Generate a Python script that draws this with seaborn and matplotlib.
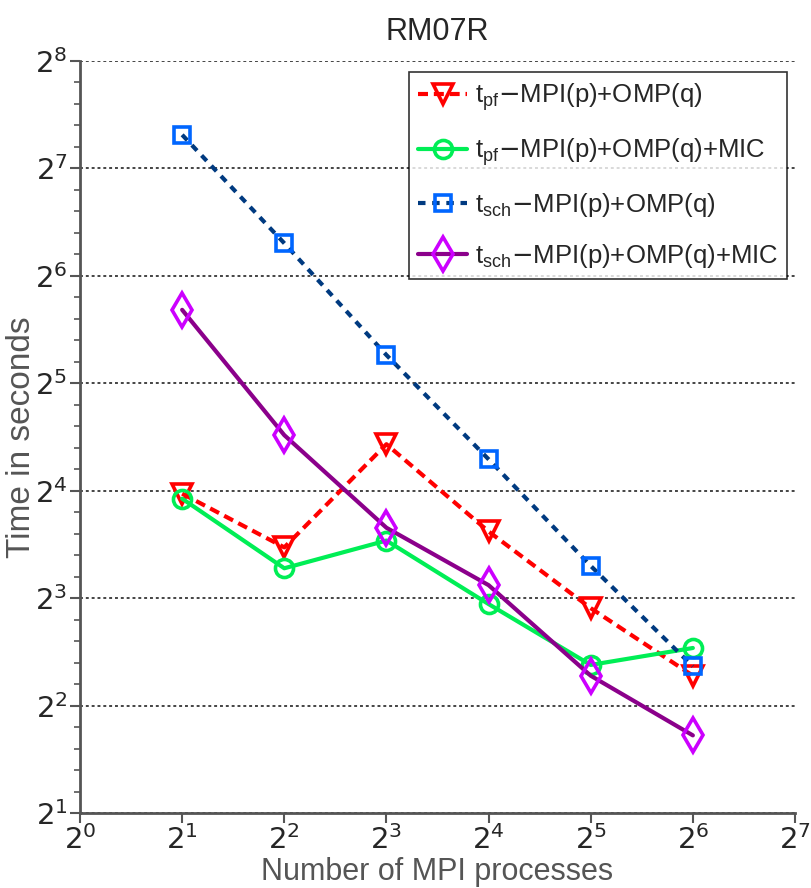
import numpy as np
import pandas as pd
import matplotlib
matplotlib.use('Agg')
import matplotlib.pyplot as plt
import matplotlib.ticker as mticker
import seaborn as sns

# data (log2 axes)
procs = [2, 4, 8, 16, 32, 64]
t_pf_omp = [15.7, 11.1, 21.6, 12.3, 7.5, 4.85]
t_pf_mic = [15.2, 9.7, 11.6, 7.7, 5.2, 5.8]
t_sch_omp = [159.0, 79.0, 38.4, 19.6, 9.85, 5.15]
t_sch_mic = [51.4, 22.9, 12.6, 8.7, 4.85, 3.3]

labels = [r'$\mathregular{t_{pf}}$$-$MPI(p)+OMP(q)',
          r'$\mathregular{t_{pf}}$$-$MPI(p)+OMP(q)+MIC',
          r'$\mathregular{t_{sch}}$$-$MPI(p)+OMP(q)',
          r'$\mathregular{t_{sch}}$$-$MPI(p)+OMP(q)+MIC']

sns.set_style('white')
plt.rcParams['font.family'] = ['Liberation Sans', 'DejaVu Sans']

fig = plt.figure(figsize=(8.11, 8.88), dpi=100)
ax = fig.add_axes([80 / 811, 75 / 888, 715 / 811, 752 / 888])

# (values, line colour, marker colour, linestyle, marker, marker size)
styles = [
    (t_pf_omp, '#ff0000', '#ff0000', (0, (2.4, 1.4)), 'v', 14),
    (t_pf_mic, '#00ee55', '#00ee55', '-', 'o', 13),
    (t_sch_omp, '#003a80', '#0066ff', (0, (1.8, 1.6)), 's', 11),
    (t_sch_mic, '#8b008b', '#cc00ff', '-', 'd', 17),
]

for (vals, lc, mc, ls, mk, ms), lab in zip(styles, labels):
    df = pd.DataFrame({'procs': procs, 'time': vals})
    sns.lineplot(data=df, x='procs', y='time', ax=ax, color=lc, linestyle=ls,
                 linewidth=3, marker=mk, markersize=ms,
                 markeredgecolor=mc, markerfacecolor='none', markeredgewidth=2.6,
                 label=lab)

ax.set_xscale('log', base=2)
ax.set_yscale('log', base=2)
ax.set_xlim(1, 128)
ax.set_ylim(2, 256)
ax.xaxis.set_major_locator(mticker.FixedLocator([2.0 ** k for k in range(0, 8)]))
ax.yaxis.set_major_locator(mticker.FixedLocator([2.0 ** k for k in range(1, 9)]))
ax.xaxis.set_major_formatter(mticker.LogFormatterMathtext(base=2))
ax.yaxis.set_major_formatter(mticker.LogFormatterMathtext(base=2))
ax.xaxis.set_minor_locator(mticker.NullLocator())
ax.yaxis.set_minor_locator(mticker.FixedLocator(
    [2.0 ** (k + f) for k in range(1, 8) for f in (0.2, 0.4, 0.6, 0.8)]))
ax.yaxis.set_minor_formatter(mticker.NullFormatter())

ax.yaxis.grid(True, which='major', linestyle=(0, (1.5, 1.5)), color='#444444', linewidth=1.4)
ax.xaxis.grid(False)

for side in ['top', 'right']:
    ax.spines[side].set_visible(False)
for side in ['left', 'bottom']:
    ax.spines[side].set_color('#555555')
    ax.spines[side].set_linewidth(2)

ax.tick_params(axis='both', which='major', direction='out', length=7, width=1.5,
               color='#555555', labelsize=21, pad=2, left=True, bottom=True)
ax.tick_params(axis='y', which='minor', direction='out', length=4, width=1.2,
               color='#555555', left=True)
for t in ax.get_xticklabels() + ax.get_yticklabels():
    t.set_fontfamily('DejaVu Sans')

ax.set_title('RM07R', fontsize=22, pad=15)
ax.set_xlabel('Number of MPI processes', fontsize=22, color='#555555', va='top')
ax.xaxis.set_label_coords(0.5, -0.058)
ax.set_ylabel('Time in seconds', fontsize=24, color='#555555')
ax.yaxis.set_label_coords(-0.06, 0.5)

leg = ax.legend(loc='upper right', bbox_to_anchor=(0.989, 0.985), fontsize=18.5,
                frameon=True, fancybox=False, edgecolor='black', handlelength=1.9,
                handletextpad=0.3, borderpad=0.35, labelspacing=0.9, borderaxespad=0)
leg.get_frame().set_linewidth(1.2)

fig.savefig('out.png', dpi=100)
